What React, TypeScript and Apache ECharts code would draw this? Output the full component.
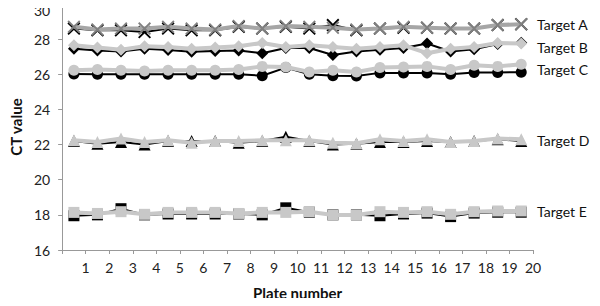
import React, { useEffect, useRef } from "react";
import * as echarts from "echarts";

const plateX = [0.5, 1.5, 2.5, 3.5, 4.5, 5.5, 6.5, 7.5, 8.5, 9.5, 10.5, 11.5, 12.5, 13.5, 14.5, 15.5, 16.5, 17.5, 18.5, 19.5];
const xTickLabels = ["1", "2", "3", "4", "5", "6", "7", "8", "9", "10", "11", "12", "13", "14", "15", "16", "17", "18", "19", "20"];
const targetNames = ["Target A", "Target B", "Target C", "Target D", "Target E"];
const labelValues = [28.85, 27.55, 26.25, 22.25, 18.2];

const aGray = [28.7, 28.55, 28.6, 28.6, 28.7, 28.6, 28.55, 28.75, 28.6, 28.75, 28.7, 28.65, 28.55, 28.6, 28.7, 28.65, 28.6, 28.6, 28.8, 28.85];
const aBlack = [28.6, 28.5, 28.5, 28.4, 28.6, 28.5, 28.5, 28.7, 28.6, 28.7, 28.6, 28.8, 28.5, 28.6, 28.65, 28.65, 28.6, 28.6, 28.8, 28.85];
const bGray = [27.65, 27.52, 27.4, 27.6, 27.55, 27.45, 27.52, 27.6, 27.78, 27.55, 27.65, 27.55, 27.45, 27.55, 27.65, 27.2, 27.45, 27.55, 27.78, 27.75];
const bBlack = [27.45, 27.35, 27.3, 27.45, 27.38, 27.28, 27.32, 27.35, 27.2, 27.5, 27.5, 27.1, 27.3, 27.4, 27.5, 27.75, 27.3, 27.42, 27.72, 27.8];
const cGray = [26.23, 26.27, 26.23, 26.19, 26.23, 26.23, 26.23, 26.27, 26.45, 26.42, 26.13, 26.23, 26.13, 26.38, 26.42, 26.45, 26.27, 26.51, 26.45, 26.57];
const cBlack = [26.02, 26.0, 26.0, 26.0, 26.0, 26.0, 26.0, 26.0, 25.92, 26.38, 26.0, 25.92, 25.9, 26.08, 26.08, 26.08, 26.0, 26.1, 26.1, 26.12];
const dGray = [22.25, 22.15, 22.35, 22.15, 22.25, 22.1, 22.2, 22.2, 22.25, 22.25, 22.25, 22.1, 22.07, 22.3, 22.2, 22.3, 22.15, 22.2, 22.35, 22.3];
const dBlack = [22.2, 22.05, 22.15, 22.0, 22.2, 22.2, 22.2, 22.1, 22.2, 22.45, 22.2, 22.0, 22.05, 22.15, 22.15, 22.2, 22.15, 22.2, 22.3, 22.2];
const eGray = [18.14, 18.08, 18.18, 18.03, 18.14, 18.14, 18.14, 18.08, 18.14, 18.14, 18.18, 17.99, 17.99, 18.18, 18.14, 18.18, 18.03, 18.18, 18.22, 18.22];
const eBlack = [17.95, 18.0, 18.35, 18.0, 18.05, 18.05, 18.05, 18.05, 18.0, 18.4, 18.15, 18.0, 18.0, 17.95, 18.05, 18.1, 17.9, 18.1, 18.15, 18.15];

const CROSS = "path://M0,1 L1,0 L5,4 L9,0 L10,1 L6,5 L10,9 L9,10 L5,6 L1,10 L0,9 L4,5 Z";

const pair = (vals: number[]) => plateX.map((x, i) => [x, vals[i]]);

function mk(name: string, vals: number[], symbol: string, size: number, color: string, lineColor: string, width: number, z: number) {
  return {
    name,
    type: "line",
    data: pair(vals),
    symbol,
    symbolSize: size,
    showAllSymbol: true,
    z,
    lineStyle: { color: lineColor, width },
    itemStyle: { color, borderWidth: 0 },
    emphasis: { disabled: true },
  };
}

export default function App() {
  const ref = useRef<HTMLDivElement>(null);
  useEffect(() => {
    if (!ref.current) return;
    const chart = echarts.init(ref.current, null, { renderer: "svg" });
    const font = "Lato, 'Noto Sans', sans-serif";
    const light = "#c8c8c8";
    const option: any = {
      animation: false,
      grid: { left: 60, right: 67, top: 4, bottom: 56 },
      xAxis: {
        type: "value",
        min: 0,
        max: 20,
        interval: 1,
        name: "Plate number",
        nameLocation: "middle",
        nameGap: 35,
        nameTextStyle: { fontFamily: font, fontSize: 15, fontWeight: "bold", color: "#111" },
        axisLine: { lineStyle: { color: "#999", width: 1 } },
        axisTick: { show: true, length: 4, lineStyle: { color: "#999" } },
        axisLabel: {
          fontFamily: font,
          fontSize: 14,
          color: "#222",
          margin: 10,
          formatter: (v: number) => (v >= 1 ? xTickLabels[Math.round(v) - 1] : ""),
        },
        splitLine: { show: false },
      },
      yAxis: {
        type: "value",
        min: 16,
        max: 30,
        interval: 2,
        name: "CT value",
        nameLocation: "middle",
        nameGap: 38,
        nameTextStyle: { fontFamily: font, fontSize: 15, fontWeight: "bold", color: "#111" },
        axisLine: { show: true, lineStyle: { color: "#999", width: 1 } },
        axisTick: { show: true, length: 4, lineStyle: { color: "#999" } },
        axisLabel: {
          fontFamily: font,
          fontSize: 14,
          color: "#222",
          margin: 12,
          formatter: (v: number) => (v === 30 ? "{top|30}" : String(v)),
          rich: { top: { fontFamily: font, fontSize: 14, color: "#222", padding: [12, 0, 0, 0] } },
        },
        splitLine: { show: false },
      },
      series: [
        mk("A black", aBlack, CROSS, 13, "#000", "#000", 2, 2),
        mk("A gray", aGray, CROSS, 13, "#808080", "#a6a6a6", 4, 3),
        mk("B black", bBlack, "diamond", 12, "#000", "#000", 2, 2),
        mk("B gray", bGray, "diamond", 12, light, light, 4, 3),
        mk("C black", cBlack, "circle", 11, "#000", "#000", 2, 2),
        mk("C gray", cGray, "circle", 11, light, light, 4, 3),
        mk("D black", dBlack, "triangle", 12, "#000", "#000", 2, 2),
        mk("D gray", dGray, "triangle", 12, light, light, 4, 3),
        mk("E black", eBlack, "rect", 11, "#000", "#000", 2, 2),
        mk("E gray", eGray, "rect", 11, light, light, 4, 3),
      ],
    };
    chart.setOption(option);
    const graphics = targetNames.map((t, i) => {
      const p = chart.convertToPixel({ gridIndex: 0 }, [20, labelValues[i]]) as number[];
      return {
        type: "text",
        x: p[0] + 4,
        y: p[1],
        style: { text: t, fontFamily: font, fontSize: 14, fill: "#111", verticalAlign: "middle", align: "left" },
      };
    });
    chart.setOption({ graphic: graphics });
    return () => chart.dispose();
  }, []);
  return <div ref={ref} style={{ width: 600, height: 306, margin: -8 }} />;
}
